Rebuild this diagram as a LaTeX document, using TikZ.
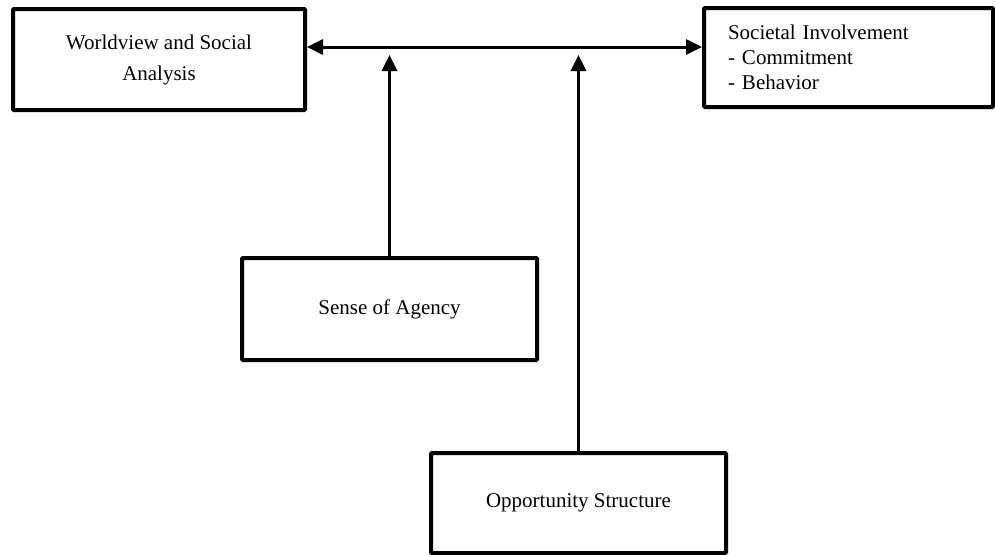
\documentclass[tikz,border=0pt]{standalone}
\usepackage{fontspec}
\setmainfont{Liberation Serif}
\usetikzlibrary{arrows.meta}
\tikzset{
	box/.style={draw, line width=4pt, rounded corners=1pt, inner sep=0pt, align=center},
	link/.style={line width=3pt, arrows={-Triangle[length=16pt,width=15pt]}},
	linkboth/.style={line width=3pt, arrows={Triangle[length=16pt,width=15pt]-Triangle[length=16pt,width=15pt]}}
}

\begin{document}
\begin{tikzpicture}[x=1pt, y=-1pt]
			%%%%% START %%%%%
			\useasboundingbox (0, 0) rectangle (995, 554);
			
			\node[box, minimum width=292pt, minimum height=101pt, font=\fontsize{21}{31}\selectfont] (world) at (159, 59.5) {Worldview and Social\\Analysis};
			\node[box, minimum width=289pt, minimum height=99pt, font=\fontsize{21}{25}\selectfont, text width=241pt, align=left] (soc) at (848.5, 57.5) {Societal Involvement\\- Commitment\\- Behavior};
			\node[box, minimum width=295pt, minimum height=102pt, font=\fontsize{21}{25}\selectfont] (agency) at (389.5, 309) {Sense of Agency};
			\node[box, minimum width=295pt, minimum height=100pt, font=\fontsize{21}{25}\selectfont] (opp) at (578.5, 503) {Opportunity Structure};
			
			\coordinate (bar) at (480, 47);
			\draw[linkboth] (bar -| world.east) -- (bar -| soc.west);
			\draw[link, shorten >=8pt] (agency.north) -- (agency.north |- bar);
			\draw[link, shorten >=8pt] (opp.north) -- (opp.north |- bar);
			
			%%%%% END %%%%%
		\end{tikzpicture}
\end{document}
